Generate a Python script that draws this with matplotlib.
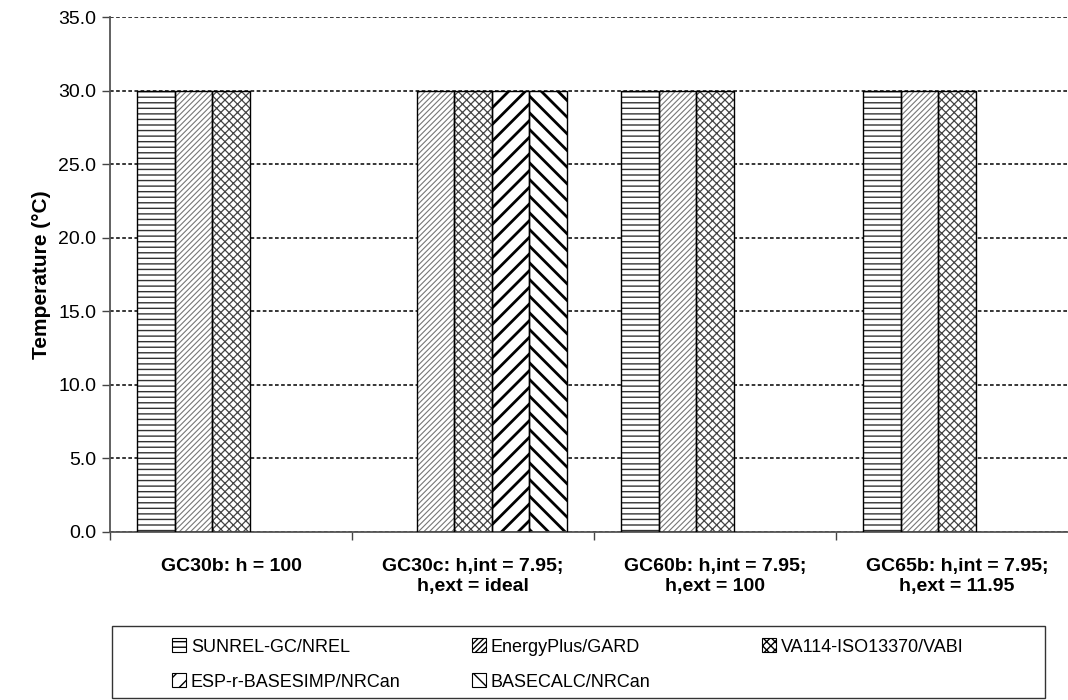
import matplotlib
matplotlib.use('Agg')
import matplotlib.pyplot as plt
import numpy as np
from matplotlib.patches import Patch, Rectangle

# =============================================================================
# DATA
# =============================================================================
categories = [
    "GC30b: h = 100",
    "GC30c: h,int = 7.95;\nh,ext = ideal",
    "GC60b: h,int = 7.95;\nh,ext = 100",
    "GC65b: h,int = 7.95;\nh,ext = 11.95",
]
series_names = [
    "SUNREL-GC/NREL",
    "EnergyPlus/GARD",
    "VA114-ISO13370/VABI",
    "ESP-r-BASESIMP/NRCan",
    "BASECALC/NRCan",
]
sunrel = [30.0, np.nan, 30.0, 30.0]
energyplus = [30.0, 30.0, 30.0, 30.0]
va114 = [30.0, 30.0, 30.0, 30.0]
espr = [np.nan, 30.0, np.nan, np.nan]
basecalc = [np.nan, 30.0, np.nan, np.nan]
yticks = [0, 5, 10, 15, 20, 25, 30, 35]

# =============================================================================
# STYLE
# =============================================================================
plt.rcParams['font.family'] = ['Liberation Sans', 'DejaVu Sans']

# hatch, hatch colour, hatch linewidth
styles = [
    ("---", "#333333", 1.0),
    ("//////", "#777777", 0.8),
    ("xxxx", "#444444", 0.9),
    ("//", "black", 2.0),
    ("\\\\", "black", 2.0),
]
all_series = [sunrel, energyplus, va114, espr, basecalc]

W, H = 1068, 700
fig = plt.figure(figsize=(W / 100, H / 100), dpi=100)
ax_left, ax_right = 110, 1078
ax_top, ax_bot = 17, 532
ax = fig.add_axes([ax_left / W, (H - ax_bot) / H,
                   (ax_right - ax_left) / W, (ax_bot - ax_top) / H])

x = np.arange(len(categories))
n = len(all_series)
bw = 0.155
offsets = (np.arange(n) - (n - 1) / 2) * bw


def set_hlw(patches, lw):
    for p in patches:
        try:
            p.set_hatch_linewidth(lw)
        except AttributeError:
            pass


for vals, (hatch, hcol, hlw), off in zip(all_series, styles, offsets):
    vals = np.array(vals, dtype=float)
    m = ~np.isnan(vals)
    bars = ax.bar(x[m] + off, vals[m], width=bw, color='white',
                  edgecolor=hcol, hatch=hatch, linewidth=0, zorder=2)
    set_hlw(bars, hlw)
    ax.bar(x[m] + off, vals[m], width=bw, color='none',
           edgecolor='black', linewidth=1.0, zorder=3)

ax.set_xlim(-0.5, len(categories) - 0.5)
ax.set_ylim(0, 35)
ax.set_yticks(yticks)
ax.set_yticklabels([f"{v:.1f}" for v in yticks], fontsize=14)
ax.yaxis.grid(True, color='black', linestyle=(0, (2.4, 1.6)), linewidth=1.1, zorder=0)
ax.set_axisbelow(True)

ax.set_xticks(x)
ax.set_xticklabels(categories, fontsize=14, fontweight='bold')
ax.tick_params(axis='x', which='major', length=0, pad=19)
ax.set_xticks(np.arange(len(categories) + 1) - 0.5, minor=True)
ax.tick_params(axis='x', which='minor', length=6, width=1, color='#444444')
ax.tick_params(axis='y', length=6, width=1, color='#444444', pad=4)

for s in ['top', 'right']:
    ax.spines[s].set_visible(False)
for s in ['left', 'bottom']:
    ax.spines[s].set_color('#555555')
    ax.spines[s].set_linewidth(1.3)

ax.set_ylabel("Temperature (°C)", fontsize=15, fontweight='bold', labelpad=5)

# Legend: frame drawn separately, entries laid out row by row
fig.add_artist(Rectangle((112 / W, 1 - 698 / H), (1045 - 112) / W, (698 - 626) / H,
                         transform=fig.transFigure, facecolor='white',
                         edgecolor='#333333', linewidth=1.0))
col_x = [172, 472, 762]
row_y = [647, 682]
for i, (name, (hatch, hcol, hlw)) in enumerate(zip(series_names, styles)):
    h = Patch(facecolor='white', edgecolor='black', hatch=hatch,
              linewidth=0.8, label=name)
    leg = fig.legend(handles=[h], loc='center left',
                     bbox_to_anchor=(col_x[i % 3] / W, 1 - row_y[i // 3] / H),
                     fontsize=13, frameon=False, handlelength=0.8,
                     handleheight=0.8, handletextpad=0.25,
                     borderpad=0, borderaxespad=0)

fig.savefig("out.png", dpi=100)
